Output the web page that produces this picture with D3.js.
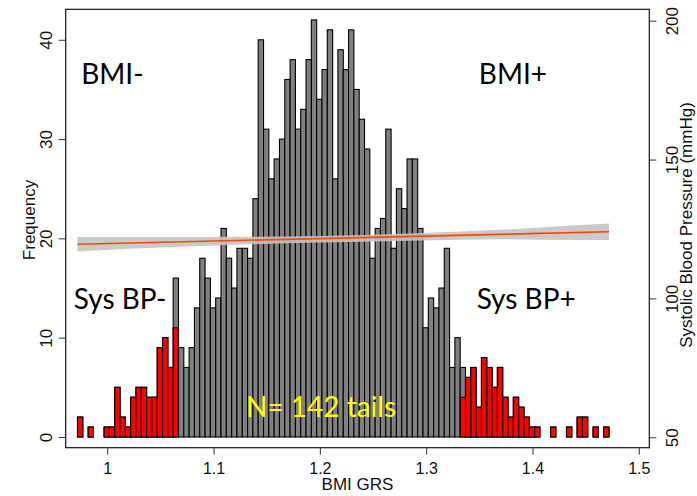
<!DOCTYPE html>
<html>
<head>
<meta charset="utf-8">
<script src="https://cdn.jsdelivr.net/npm/d3@7"></script>
<style>
  body{margin:0;background:#fff;}
  svg{display:block;}
</style>
</head>
<body>
<div id="chart"></div>
<script>
// histogram of BMI GRS, bins of 0.005 starting at 0.972
const binStart = 0.972;
const binWidth = 0.005;

// all subjects (grey bars)
const allCounts = [
  2,0,1,0,0,1,1,5,2,1,
  4,5,5,4,4,9,10,7,16,9,
  7,9,13,18,16,13,14,21,18,15,
  19,19,18,24,40,31,26,28,30,36,
  38,31,33,38,42,34,37,41,26,39,
  37,41,35,32,29,18,21,22,31,19,
  25,23,28,28,21,11,14,13,15,19,
  7,10,7,6,7,3,8,7,5,7,
  4,2,4,3,2,1,1,0,0,1,
  0,0,1,0,2,2,0,1,0,1
];

// tails only (red bars drawn on top)
const tailCounts = [
  2,0,1,0,0,1,1,5,2,1,
  4,5,5,4,4,9,10,7,11,0,
  0,0,0,0,0,0,0,0,0,0,
  0,0,0,0,0,0,0,0,0,0,
  0,0,0,0,0,0,0,0,0,0,
  0,0,0,0,0,0,0,0,0,0,
  0,0,0,0,0,0,0,0,0,0,
  0,0,4,6,7,3,8,7,5,7,
  4,2,4,3,2,1,1,0,0,1,
  0,0,1,0,2,2,0,1,0,1
];

// regression of systolic BP on BMI GRS with confidence band
const fitX = [0.972, 1.472];
const fitY = [119.5, 124.0];
const ciX    = [0.972, 1.05, 1.125, 1.2, 1.285, 1.37, 1.445, 1.472];
const ciLow  = [116.9, 118.3, 119.4, 120.1, 120.8, 121.3, 121.0, 121.0];
const ciHigh = [122.1, 122.1, 122.2, 122.5, 123.4, 124.7, 126.4, 127.0];

const xTicks = [1, 1.1, 1.2, 1.3, 1.4, 1.5];
const freqTicks = [0, 10, 20, 30, 40];
const bpTicks = [50, 100, 150, 200];

const labels = [
  {text: 'BMI-', x: 0.9755, y: 35.5},
  {text: 'BMI+', x: 1.3495, y: 35.5},
  {text: 'Sys BP-', x: 0.9685, y: 12.9},
  {text: 'Sys BP+', x: 1.3475, y: 12.9}
];

const width = 697, height = 496;
const box = {left: 65.7, right: 649.3, top: 9.3, bottom: 447.7};

const svg = d3.select('#chart').append('svg')
  .attr('width', width)
  .attr('height', height);

const xScale = d3.scaleLinear().domain([0.9609, 1.5099]).range([box.left, box.right]);
const yScale = d3.scaleLinear().domain([-1.08, 43.07]).range([box.bottom, box.top]);
const bpScale = d3.scaleLinear().domain([46.25, 204.1]).range([box.bottom, box.top]);

const bins = allCounts.map((c, i) => ({
  x0: binStart + i * binWidth,
  x1: binStart + (i + 1) * binWidth,
  all: c,
  tail: tailCounts[i]
}));

// grey bars first
svg.append('g').selectAll('rect')
  .data(bins.filter(d => d.all > 0))
  .enter().append('rect')
    .attr('x', d => xScale(d.x0))
    .attr('y', d => yScale(d.all))
    .attr('width', d => xScale(d.x1) - xScale(d.x0))
    .attr('height', d => yScale(0) - yScale(d.all))
    .attr('fill', '#808080')
    .attr('stroke', '#000')
    .attr('stroke-width', 1.1);

// red tails on top
svg.append('g').selectAll('rect')
  .data(bins.filter(d => d.tail > 0))
  .enter().append('rect')
    .attr('x', d => xScale(d.x0))
    .attr('y', d => yScale(d.tail))
    .attr('width', d => xScale(d.x1) - xScale(d.x0))
    .attr('height', d => yScale(0) - yScale(d.tail))
    .attr('fill', '#ff0000')
    .attr('stroke', '#000')
    .attr('stroke-width', 1.1);

// confidence band + fitted line
const band = d3.area()
  .x((d, i) => xScale(ciX[i]))
  .y0((d, i) => bpScale(ciLow[i]))
  .y1((d, i) => bpScale(ciHigh[i]))
  .curve(d3.curveMonotoneX);
svg.append('path')
  .attr('d', band(ciX))
  .attr('fill', '#c4c4c4')
  .attr('opacity', 0.9);

svg.append('path')
  .attr('d', d3.line().x((d, i) => xScale(fitX[i])).y((d, i) => bpScale(fitY[i]))(fitX))
  .attr('fill', 'none')
  .attr('stroke', '#ff4500')
  .attr('stroke-width', 1.6);

// plot box
svg.append('rect')
  .attr('x', box.left).attr('y', box.top)
  .attr('width', box.right - box.left).attr('height', box.bottom - box.top)
  .attr('fill', 'none').attr('stroke', '#111').attr('stroke-width', 1.2);

const tickFont = 'Liberation Sans, Arial, sans-serif';

// bottom axis
const xAxis = svg.append('g')
  .attr('transform', `translate(0,${box.bottom})`)
  .call(d3.axisBottom(xScale).tickValues(xTicks).tickFormat(d3.format('')).tickSize(7).tickSizeOuter(0));
xAxis.select('.domain').remove();
xAxis.selectAll('text').attr('font-size', 16).attr('font-family', tickFont).attr('fill', '#111').attr('y', 15).attr('dy', '0.71em');
xAxis.selectAll('line').attr('stroke', '#333');

// left axis, rotated labels
const yAxis = svg.append('g')
  .attr('transform', `translate(${box.left},0)`)
  .call(d3.axisLeft(yScale).tickValues(freqTicks).tickSize(7).tickSizeOuter(0));
yAxis.select('.domain').remove();
yAxis.selectAll('line').attr('stroke', '#333');
yAxis.selectAll('text')
  .attr('transform', 'rotate(-90)')
  .attr('x', 0).attr('y', -14).attr('dy', 0)
  .attr('text-anchor', 'middle')
  .attr('font-size', 17).attr('font-family', tickFont).attr('fill', '#111');

// right axis, systolic BP
const bpAxis = svg.append('g')
  .attr('transform', `translate(${box.right},0)`)
  .call(d3.axisRight(bpScale).tickValues(bpTicks).tickSize(7).tickSizeOuter(0));
bpAxis.select('.domain').remove();
bpAxis.selectAll('line').attr('stroke', '#333');
bpAxis.selectAll('text')
  .attr('transform', 'rotate(-90)')
  .attr('x', 0).attr('y', 28.5).attr('dy', 0)
  .attr('text-anchor', 'middle')
  .attr('font-size', 17).attr('font-family', tickFont).attr('fill', '#111');

// axis titles
svg.append('text')
  .attr('x', (box.left + box.right) / 2)
  .attr('y', 490)
  .attr('text-anchor', 'middle')
  .attr('font-size', 17).attr('font-family', tickFont).attr('fill', '#111')
  .text('BMI GRS');

svg.append('text')
  .attr('transform', 'translate(35,220) rotate(-90)')
  .attr('text-anchor', 'middle')
  .attr('font-size', 17).attr('font-family', tickFont).attr('fill', '#111')
  .text('Frequency');

svg.append('text')
  .attr('transform', 'translate(692,225) rotate(-90)')
  .attr('text-anchor', 'middle')
  .attr('font-size', 17).attr('font-family', tickFont).attr('fill', '#111')
  .text('Systolic Blood Pressure (mmHg)');

// annotations
const noteFont = 'Lato, Open Sans, sans-serif';
svg.append('g').selectAll('text')
  .data(labels)
  .enter().append('text')
    .attr('x', d => xScale(d.x))
    .attr('y', d => yScale(d.y))
    .attr('font-size', 28).attr('font-family', noteFont).attr('fill', '#000')
    .text(d => d.text);

svg.append('text')
  .attr('x', 246).attr('y', 417)
  .attr('font-size', 28).attr('font-family', noteFont).attr('fill', '#ffff00')
  .text('N= 142 tails');
</script>
</body>
</html>
